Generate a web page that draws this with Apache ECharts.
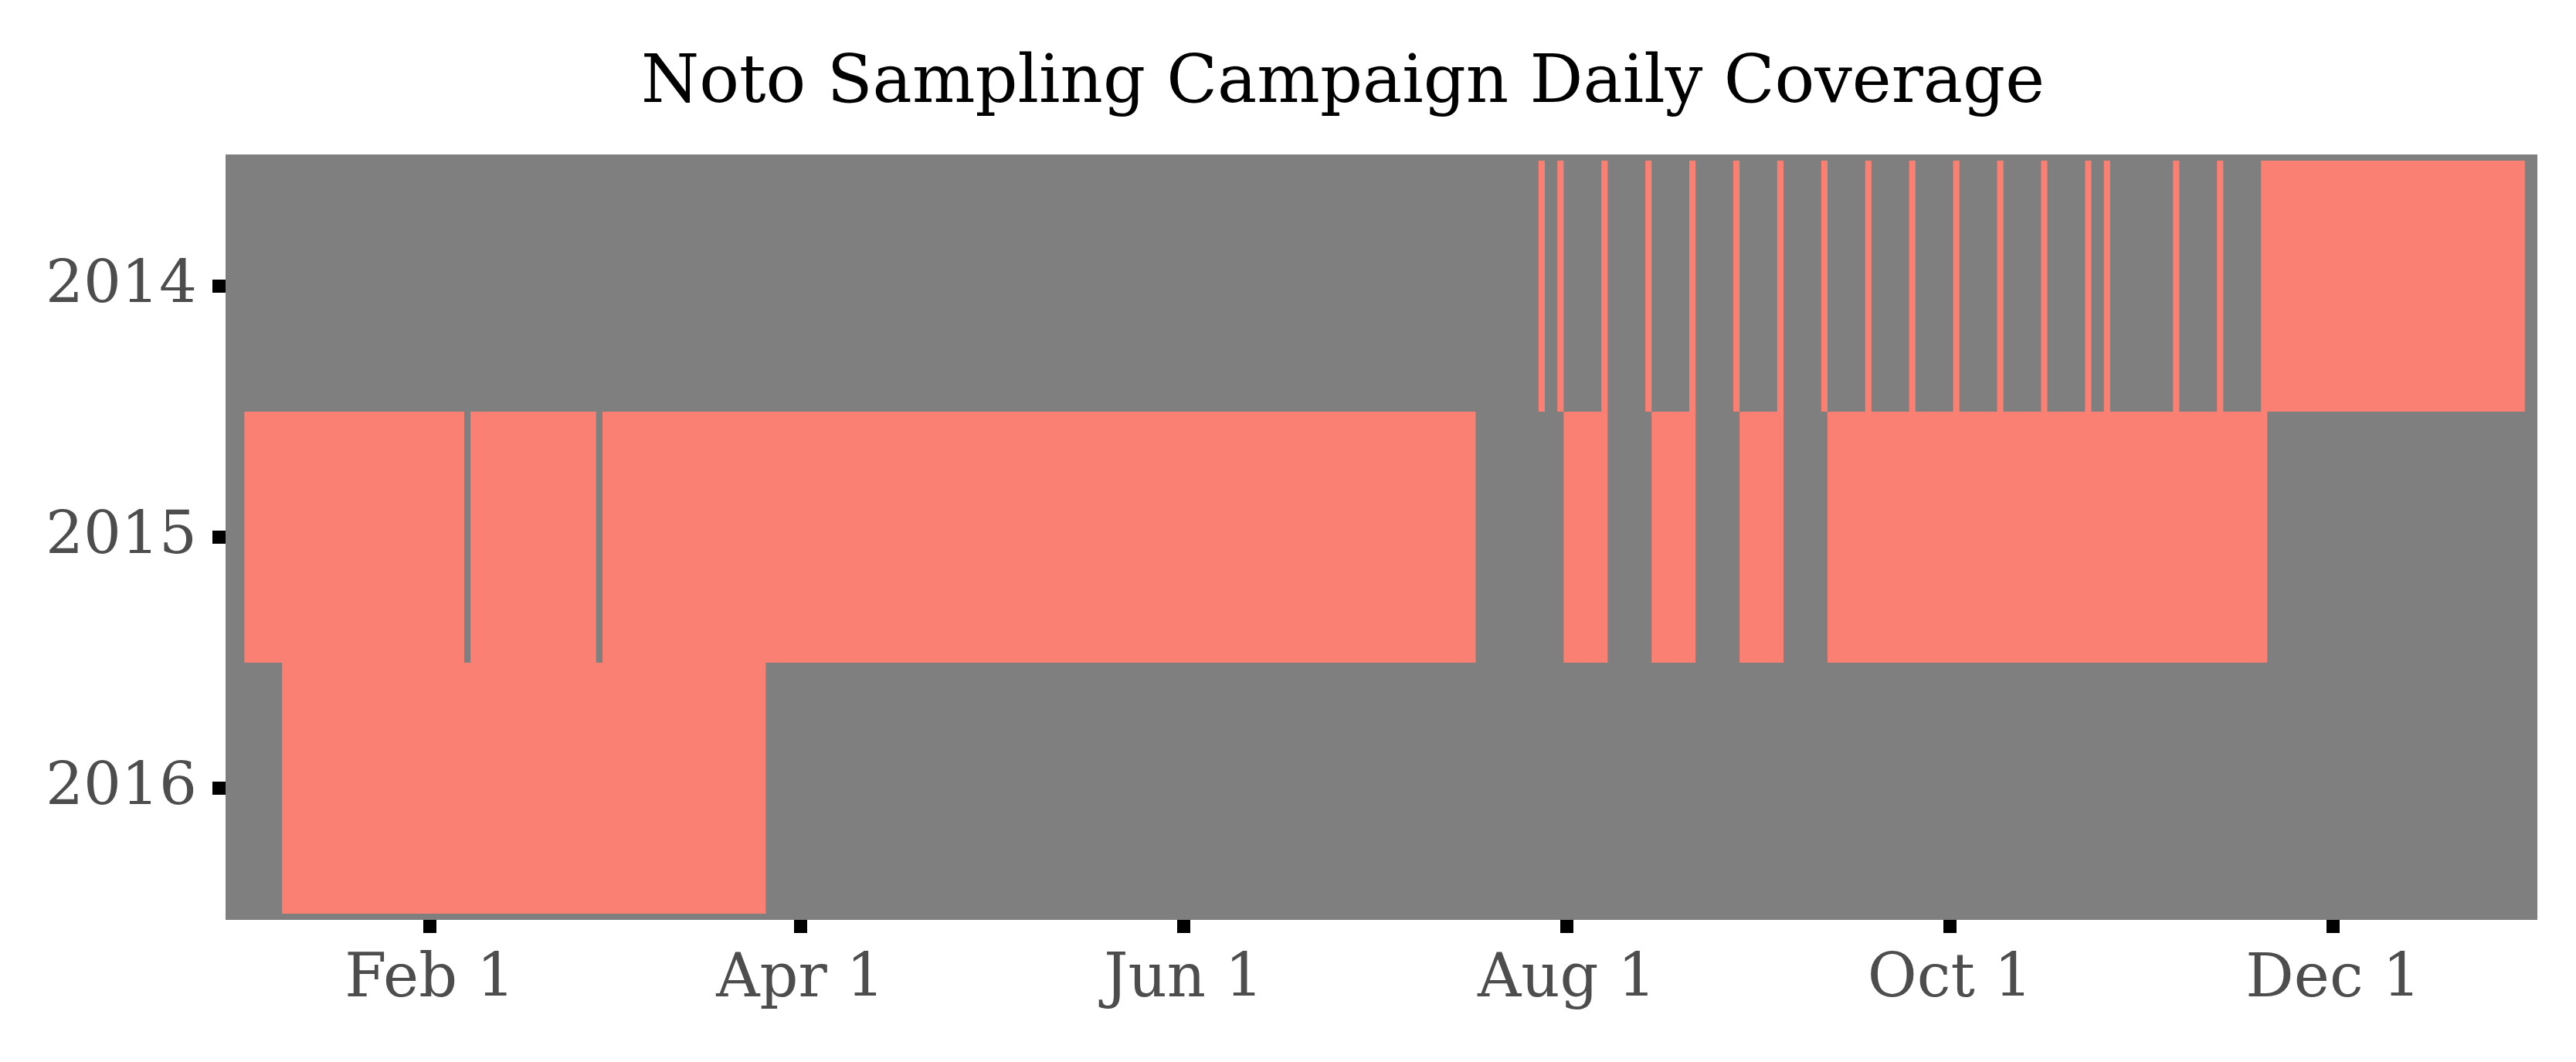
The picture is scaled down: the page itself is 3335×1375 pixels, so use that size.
<!DOCTYPE html>
<html>
<head>
<meta charset="utf-8">
<script src="https://cdn.jsdelivr.net/npm/echarts@6/dist/echarts.min.js"></script>
<style>
  html, body { margin: 0; padding: 0; background: #ffffff; }
  #chart { width: 3335px; height: 1375px; }
</style>
</head>
<body>
<div id="chart"></div>
<script>
// ---- Data (day-of-year index) ----
const titleText = 'Noto Sampling Campaign Daily Coverage';
const years = ['2014', '2015', '2016'];
// sampled day runs [firstDay, lastDay] per year
const sampled2014 = [[209, 209], [212, 212], [219, 219], [226, 226], [233, 233], [240, 240],
  [247, 247], [254, 254], [261, 261], [268, 268], [275, 275], [282, 282], [289, 289],
  [296, 296], [299, 299], [310, 310], [317, 317], [324, 365]];
const sampled2015 = [[3, 37], [39, 58], [60, 198], [213, 219], [227, 233], [241, 247], [255, 324]];
const sampled2016 = [[9, 85]];
// x axis: day slots shown (first and last slot), tick days and labels
const dayRange = [0, 367];
const tickDays = [32, 91, 152, 213, 274, 335];
const tickLabels = ['Feb 1', 'Apr 1', 'Jun 1', 'Aug 1', 'Oct 1', 'Dec 1'];

// ---- Build library inputs ----
const dayCats = [];
for (let d = dayRange[0]; d <= dayRange[1]; d++) dayCats.push(String(d));
const tickSet = new Set(tickDays.map(String));
const labelOf = {};
tickDays.forEach((d, i) => { labelOf[String(d)] = tickLabels[i]; });

const tiles = [];
[sampled2014, sampled2015, sampled2016].forEach((runs, yi) => {
  runs.forEach(r => tiles.push([r[0] - dayRange[0], r[1] - dayRange[0], yi]));
});

const axisFont = 'DejaVu Serif';
const chart = echarts.init(document.getElementById('chart'), null, { renderer: 'canvas' });
chart.setOption({
  animation: false,
  backgroundColor: '#ffffff',
  title: {
    text: titleText,
    left: 830,
    top: 60,
    padding: 0,
    textStyle: { fontFamily: axisFont, fontSize: 86, fontWeight: 'normal', color: '#000000', lineHeight: 100 }
  },
  grid: { left: 292, right: 50, top: 208, height: 975 },
  xAxis: {
    type: 'category',
    data: dayCats,
    boundaryGap: true,
    axisLine: { show: false },
    axisTick: {
      show: true,
      alignWithLabel: true,
      interval: (idx, val) => tickSet.has(val),
      length: 25,
      lineStyle: { color: '#000000', width: 17 }
    },
    axisLabel: {
      interval: (idx, val) => tickSet.has(val),
      formatter: (val) => labelOf[val] || '',
      margin: 48,
      fontFamily: axisFont,
      fontSize: 78,
      lineHeight: 78,
      color: '#4D4D4D'
    },
    splitLine: { show: false }
  },
  yAxis: {
    type: 'category',
    data: years,
    inverse: true,
    offset: -8,
    axisLine: { show: false },
    axisTick: {
      show: true,
      alignWithLabel: true,
      length: 25,
      lineStyle: { color: '#000000', width: 17 }
    },
    axisLabel: {
      margin: 45,
      fontFamily: axisFont,
      fontSize: 77,
      color: '#4D4D4D'
    },
    splitLine: { show: false }
  },
  series: [
    {
      type: 'custom',
      silent: true,
      clip: false,
      z: 1,
      data: [0],
      renderItem: (params, api) => {
        const cs = params.coordSys;
        return {
          type: 'rect',
          shape: { x: cs.x, y: cs.y - 8, width: cs.width, height: cs.height + 16 },
          style: { fill: '#7F7F7F' }
        };
      }
    },
    {
      type: 'custom',
      silent: true,
      z: 2,
      encode: { x: [0, 1], y: 2 },
      data: tiles,
      renderItem: (params, api) => {
        const s = api.value(0), e = api.value(1), yi = api.value(2);
        const p0 = api.coord([s, yi]);
        const p1 = api.coord([e, yi]);
        const sz = api.size([1, 1]);
        return {
          type: 'rect',
          shape: {
            x: p0[0] - sz[0] / 2,
            y: p0[1] - sz[1] / 2,
            width: p1[0] - p0[0] + sz[0],
            height: sz[1]
          },
          style: { fill: '#F98072' }
        };
      }
    }
  ]
});
</script>
</body>
</html>
